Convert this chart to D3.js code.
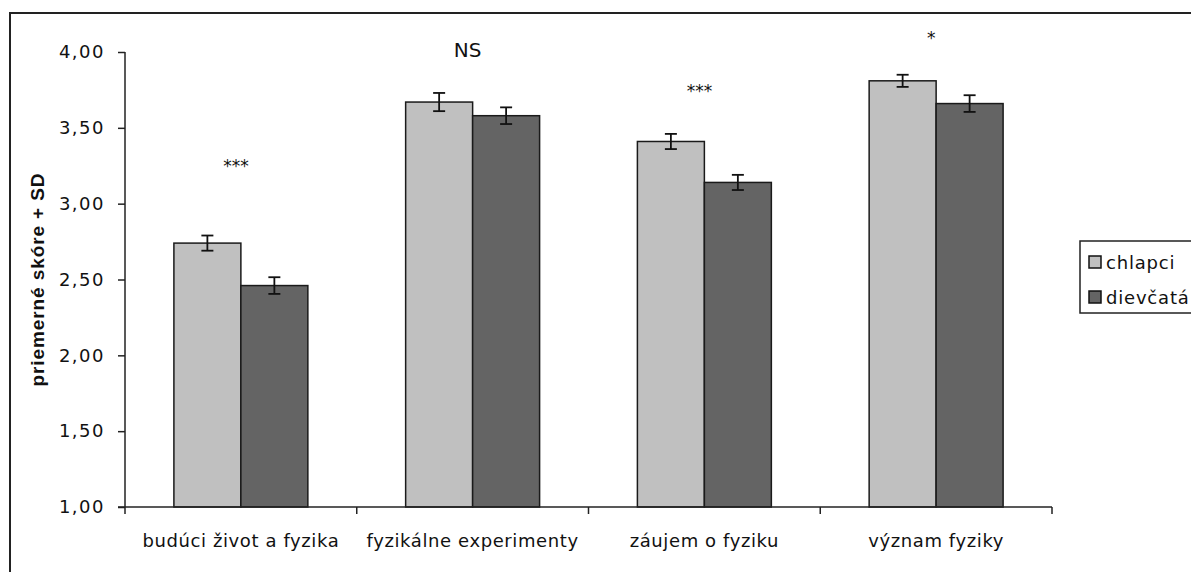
<!DOCTYPE html>
<html>
<head>
<meta charset="utf-8">
<script src="https://cdn.jsdelivr.net/npm/d3@7"></script>
<style>
  body { margin: 0; background: #fff; }
  svg { display: block; }
  text { fill: #111; }
</style>
</head>
<body>
<svg width="1191" height="572"></svg>
<script>
// data
var categories = ["budúci život a fyzika", "fyzikálne experimenty", "záujem o fyziku", "význam fyziky"];
var series = ["chlapci", "dievčatá"];
var chlapci = [2.74, 3.67, 3.41, 3.81];
var dievcata = [2.46, 3.58, 3.14, 3.66];
var sdChlapci = [0.05, 0.06, 0.05, 0.04];
var sdDievcata = [0.055, 0.055, 0.05, 0.055];
var signif = ["***", "NS", "***", "*"];
var signifLevel = [3.27, 4.02, 3.76, 4.11];
var yTicks = [1, 1.5, 2, 2.5, 3, 3.5, 4];

var colors = ["#c0c0c0", "#646464"];

var svg = d3.select("svg");

// outer chart frame (right and bottom sides run off the picture)
svg.append("rect")
    .attr("x", 10).attr("y", 13)
    .attr("width", 1300).attr("height", 700)
    .attr("fill", "none").attr("stroke", "#222").attr("stroke-width", 2);

var x = d3.scaleBand().domain(categories).range([125, 1052]).padding(0);
var xs = d3.scaleBand().domain(series).range([0, x.bandwidth()]).paddingInner(0).paddingOuter(0.73);
var y = d3.scaleLinear().domain([1, 4]).range([507, 52]);

var fmt = function (d) { return d3.format(".2f")(d).replace(".", ","); };

// y axis
var yAxis = svg.append("g")
    .attr("transform", "translate(125,0)")
    .call(d3.axisLeft(y).tickValues(yTicks).tickFormat(fmt).tickSize(7).tickPadding(13));
yAxis.select(".domain").attr("stroke", "#222").attr("stroke-width", 1.5).attr("d", "M0," + y(4) + "V" + y(1));
yAxis.selectAll(".tick line").attr("stroke", "#222").attr("stroke-width", 1.5);
yAxis.selectAll(".tick text")
    .style("font-family", "DejaVu Sans, sans-serif")
    .style("font-size", "18px")
    .style("letter-spacing", "1.5px")
    .attr("fill", "#111");

svg.append("text")
    .attr("transform", "translate(44," + (y(2.5)) + ") rotate(-90)")
    .attr("text-anchor", "middle")
    .style("font-family", "Liberation Sans, Arial, sans-serif")
    .style("font-weight", "bold")
    .style("font-size", "19px")
    .style("letter-spacing", "0.9px")
    .text("priemerné skóre + SD");

// bars
var rows = categories.map(function (c, i) {
    return { cat: c, vals: [
        { s: series[0], v: chlapci[i], sd: sdChlapci[i] },
        { s: series[1], v: dievcata[i], sd: sdDievcata[i] }
    ] };
});

var groups = svg.selectAll(".grp")
    .data(rows)
    .enter().append("g")
    .attr("class", "grp")
    .attr("transform", function (d) { return "translate(" + x(d.cat) + ",0)"; });

groups.selectAll("rect")
    .data(function (d) { return d.vals; })
    .enter().append("rect")
    .attr("x", function (d) { return xs(d.s); })
    .attr("y", function (d) { return y(d.v); })
    .attr("width", xs.bandwidth())
    .attr("height", function (d) { return y(1) - y(d.v); })
    .attr("fill", function (d, i) { return colors[i]; })
    .attr("stroke", "#1a1a1a")
    .attr("stroke-width", 1.5);

// error bars
var eb = groups.selectAll(".eb")
    .data(function (d) { return d.vals; })
    .enter().append("g")
    .attr("class", "eb")
    .attr("stroke", "#111")
    .attr("stroke-width", 1.8);
eb.append("line")
    .attr("x1", function (d) { return xs(d.s) + xs.bandwidth() / 2; })
    .attr("x2", function (d) { return xs(d.s) + xs.bandwidth() / 2; })
    .attr("y1", function (d) { return y(d.v + d.sd); })
    .attr("y2", function (d) { return y(d.v - d.sd); });
[1, -1].forEach(function (k) {
    eb.append("line")
        .attr("x1", function (d) { return xs(d.s) + xs.bandwidth() / 2 - 6; })
        .attr("x2", function (d) { return xs(d.s) + xs.bandwidth() / 2 + 6; })
        .attr("y1", function (d) { return y(d.v + k * d.sd); })
        .attr("y2", function (d) { return y(d.v + k * d.sd); });
});

// x axis
svg.append("line")
    .attr("x1", 118).attr("x2", x.range()[1])
    .attr("y1", y(1)).attr("y2", y(1))
    .attr("stroke", "#222").attr("stroke-width", 1.5);
var bounds = categories.map(function (c) { return x(c); }).concat([x.range()[1]]);
svg.selectAll(".xtick")
    .data(bounds)
    .enter().append("line")
    .attr("class", "xtick")
    .attr("x1", function (d) { return d; }).attr("x2", function (d) { return d; })
    .attr("y1", y(1)).attr("y2", y(1) + 7)
    .attr("stroke", "#222").attr("stroke-width", 1.5);

svg.selectAll(".xlab")
    .data(categories)
    .enter().append("text")
    .attr("class", "xlab")
    .attr("x", function (d) { return x(d) + x.bandwidth() / 2; })
    .attr("y", 547)
    .attr("text-anchor", "middle")
    .style("font-family", "DejaVu Sans, sans-serif")
    .style("font-size", "18px")
    .style("letter-spacing", "0.6px")
    .text(function (d) { return d; });

// significance marks
svg.selectAll(".sig")
    .data(categories)
    .enter().append("text")
    .attr("class", "sig")
    .attr("x", function (d) { return x(d) + x.bandwidth() / 2 - 5; })
    .attr("y", function (d, i) { return y(signifLevel[i]) + (signif[i] === "NS" ? 8 : 9); })
    .attr("text-anchor", "middle")
    .style("font-family", "DejaVu Sans, sans-serif")
    .style("font-size", function (d, i) { return signif[i] === "NS" ? "20px" : "17px"; })
    .text(function (d, i) { return signif[i]; });

// legend
var lg = svg.append("g").attr("transform", "translate(1080,241)");
lg.append("rect")
    .attr("width", 130).attr("height", 72)
    .attr("fill", "#fff").attr("stroke", "#222").attr("stroke-width", 1.5);
var li = lg.selectAll(".li")
    .data(series)
    .enter().append("g")
    .attr("class", "li")
    .attr("transform", function (d, i) { return "translate(9," + (15 + i * 35) + ")"; });
li.append("rect")
    .attr("width", 12).attr("height", 12)
    .attr("fill", function (d, i) { return colors[i]; })
    .attr("stroke", "#111").attr("stroke-width", 1.5);
li.append("text")
    .attr("x", 17).attr("y", 13)
    .style("font-family", "DejaVu Sans, sans-serif")
    .style("font-size", "18px")
    .style("letter-spacing", "0.8px")
    .text(function (d) { return d; });
</script>
</body>
</html>
